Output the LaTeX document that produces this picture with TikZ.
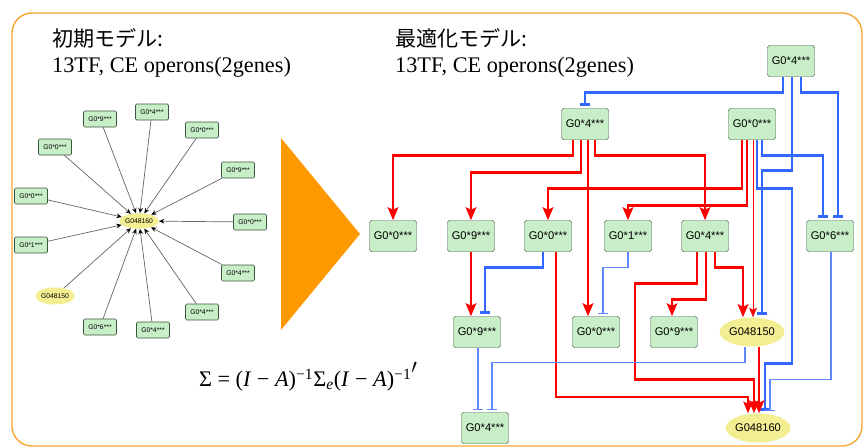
\documentclass[tikz,border=0pt]{standalone}
\usepackage{fontspec}
\setmainfont{Liberation Serif}
\setsansfont{Liberation Sans}
\newfontfamily\jpfont{Noto Sans CJK JP}
\usetikzlibrary{arrows.meta,calc,shapes.geometric}

\definecolor{frameorange}{RGB}{247,168,50}
\definecolor{arroworange}{RGB}{255,153,0}
\definecolor{genefill}{RGB}{200,238,200}
\definecolor{genedraw}{RGB}{60,85,60}
\definecolor{operonfill}{RGB}{242,238,145}
\definecolor{inhblue}{RGB}{51,102,255}
\definecolor{inhlight}{RGB}{95,135,255}

\begin{document}
\begin{tikzpicture}[x=0.03cm, y=-0.03cm,
    gene/.style={rectangle, draw=genedraw, fill=genefill, rounded corners=2pt, minimum width=1.41cm, minimum height=0.93cm, inner sep=0pt, font=\sffamily\fontsize{9.5}{10}\selectfont},
    operon/.style={ellipse, fill=operonfill, minimum width=1.47cm, minimum height=0.87cm, inner sep=0pt, font=\sffamily\fontsize{9.5}{10}\selectfont},
    smallgene/.style={gene, minimum width=0.99cm, minimum height=0.48cm, rounded corners=1pt, line width=0.5pt, font=\sffamily\fontsize{5.8}{6}\selectfont},
    smalloperon/.style={operon, minimum width=1.02cm, minimum height=0.46cm, font=\sffamily\fontsize{5.8}{6}\selectfont},
    inarrow/.style={draw=gray!80!black, line width=0.6pt, -{Stealth[length=4.5pt,width=4pt,color=black]}},
    actthick/.style={color=red, line width=2.5pt, -{Stealth[length=11pt,width=9pt,inset=2pt]}},
    actmid/.style={color=red, line width=1.8pt, -{Stealth[length=10pt,width=8pt,inset=2pt]}},
    actthin/.style={color=red, line width=0.8pt, -{Stealth[length=8pt,width=6.5pt,inset=1.5pt]}},
    inhthick/.style={color=inhblue, line width=2.3pt, -{Bar[width=9pt]}, shorten >=2pt},
    inhthin/.style={color=inhlight, line width=0.9pt, -{Bar[width=8pt]}, shorten >=2pt},
]
\useasboundingbox (0,0) rectangle (865,448);
\draw[frameorange, line width=1.2pt, rounded corners=0.6cm] (12,13) rectangle (862,446);

\node[anchor=west, inner sep=0pt, font=\jpfont\fontsize{18}{20}\selectfont] (initname) at (52,38) {初期モデル:};
\node[anchor=west, inner sep=0pt, font=\fontsize{19}{21}\selectfont] (initsize) at (52,67) {13TF, CE operons(2genes)};
\node[anchor=west, inner sep=0pt, font=\jpfont\fontsize{18}{20}\selectfont] (optname) at (395,38) {最適化モデル:};
\node[anchor=west, inner sep=0pt, font=\fontsize{19}{21}\selectfont] (optsize) at (395,67) {13TF, CE operons(2genes)};

\fill[arroworange] (281,138) -- (281,330) -- (360,234) -- cycle;

\node[font=\fontsize{19}{21}\selectfont] (model) at (308,377) {Σ = (\textit{I} − \textit{A})\textsuperscript{−1}Σ\textsubscript{\textit{e}}(\textit{I} − \textit{A})\textsuperscript{−1}\raisebox{1.3ex}{$\prime$}};

\node[smalloperon] (hub) at (139,221) {G048160};
\node[smallgene] (tf1) at (100,119) {G0*9***};
\node[smallgene] (tf2) at (152,112) {G0*4***};
\node[smallgene] (tf3) at (202,130) {G0*0***};
\node[smallgene] (tf4) at (238,170) {G0*9***};
\node[smallgene] (tf5) at (250,222) {G0*0***};
\node[smallgene] (tf6) at (238,273) {G0*4***};
\node[smallgene] (tf7) at (202,312) {G0*4***};
\node[smallgene] (tf8) at (153,330) {G0*4***};
\node[smallgene] (tf9) at (100,327) {G0*6***};
\node[smalloperon, minimum height=0.51cm] (op0) at (55,296) {G048150};
\node[smallgene] (tf10) at (31,245) {G0*1***};
\node[smallgene] (tf11) at (31,196) {G0*0***};
\node[smallgene] (tf12) at (55,147) {G0*0***};

\draw[inarrow] (tf1) -- (hub);
\draw[inarrow] (tf2) -- (hub);
\draw[inarrow] (tf3) -- (hub);
\draw[inarrow] (tf4) -- (hub);
\draw[inarrow] (tf5) -- (hub);
\draw[inarrow] (tf6) -- (hub);
\draw[inarrow] (tf7) -- (hub);
\draw[inarrow] (tf8) -- (hub);
\draw[inarrow] (tf9) -- (hub);
\draw[inarrow] (op0) -- (hub);
\draw[inarrow] (tf10) -- (hub);
\draw[inarrow] (tf11) -- (hub);
\draw[inarrow] (tf12) -- (hub);

\node[gene] (ga) at (791,61) {G0*4***};
\node[gene] (gb) at (585,124) {G0*4***};
\node[gene] (gc) at (752,124) {G0*0***};
\node[gene] (r1) at (393,236) {G0*0***};
\node[gene] (r2) at (471,236) {G0*9***};
\node[gene] (r3) at (548,236) {G0*0***};
\node[gene] (r4) at (628,236) {G0*1***};
\node[gene] (r5) at (705,236) {G0*4***};
\node[gene] (r6) at (830,236) {G0*6***};
\node[gene] (q1) at (477,332) {G0*9***};
\node[gene] (q2) at (596,332) {G0*0***};
\node[gene] (q3) at (674,332) {G0*9***};
\node[operon] (op150) at (752,332) {G048150};
\node[gene] (u1) at (485,428) {G0*4***};
\node[operon] (op160) at (758,428) {G048160};

\draw[inhthick] ($(ga.south)+(-8,0)$) -- ++(0,16) -| (gb);
\draw[inhthick] ($(ga.south)+(10,0)$) -- ++(0,16) -| ($(r6.north)+(8,0)$);
\draw[inhthick] ($(ga.south)+(1,0)$) -- ++(0,94) -| ($(op150.north)+(10,0)$);
\draw[actthick] ($(gb.south)+(-12,0)$) -- ++(0,16) -| (r1);
\draw[actthick] ($(gb.south)+(-4,0)$) -- ++(0,33) -| (r2);
\draw[actthick] ($(gb.south)+(3,0)$) -- ($(q2.north)+(-8,0)$);
\draw[actthick] ($(gb.south)+(10,0)$) -- ++(0,16) -| (r5);
\draw[actthick] ($(gc.south)+(-10,0)$) -- ++(0,49) -| (r3);
\draw[actthick] ($(gc.south)+(-5,0)$) -- ++(0,66) -| (r4);
\draw[actthin] ($(gc.south)+(1,0)$) -- ($(op150.north)+(1,0)$);
\draw[inhthick] ($(gc.south)+(10,0)$) -- ++(0,16) -| ($(r6.north)+(-7,0)$);
\draw[inhthick] ($(gc.south)+(5,0)$) -- ++(0,49) -- ++(35,0) -- ++(0,175) -| ($(op160.north)+(7,0)$);
\draw[actthick] (r2) -- ($(q1.north)+(-6,0)$);
\draw[inhthick] ($(r3.south)+(-5,0)$) -- ++(0,16) -| ($(q1.north)+(8,0)$);
\draw[actmid] ($(r3.south)+(8,0)$) -- ++(0,145) -| ($(op160.north)+(-10,0)$);
\draw[inhthin] (r4.south) -- ++(0,16) -| ($(q2.north)+(7,0)$);
\draw[actthick] ($(r5.south)+(1,0)$) -- ++(0,48) -| ($(q3.north)+(-2,0)$);
\draw[actthick] ($(r5.south)+(10,0)$) -- ++(0,16) -| ($(op150.north)+(-9,0)$);
\draw[actthick] ($(r5.south)+(-8,0)$) -- ++(0,32) -- ++(-62,0) -- ++(0,96) -| ($(op160.north)+(-4,0)$);
\draw[inhthin] ($(r6.south)+(1,0)$) -- ++(0,128) -| ($(op160.north)+(12,0)$);
\draw[inhthin] ($(q1.south)+(1,0)$) -- ($(u1.north)+(-7,0)$);
\draw[inhthin] ($(op150.south)+(-7,0)$) -- ++(0,16) -| ($(u1.north)+(7,0)$);
\draw[actthick] ($(op150.south)+(7,0)$) -- ($(op160.north)+(1,0)$);
\end{tikzpicture}
\end{document}
